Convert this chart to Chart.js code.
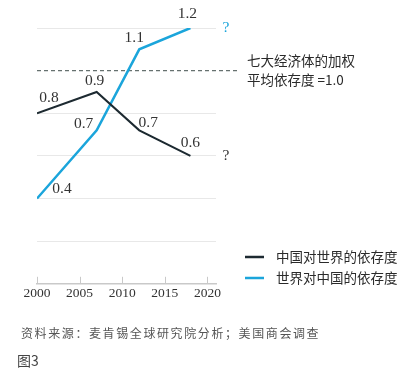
<!DOCTYPE html>
<html>
<head>
<meta charset="utf-8">
<script src="https://cdn.jsdelivr.net/npm/chart.js@4/dist/chart.umd.min.js"></script>
<style>
  html, body { margin: 0; padding: 0; background: #fff; }
  #wrap { position: relative; width: 411px; height: 371px; overflow: hidden; }
  #chart { position: absolute; left: 0; top: 0; }
  .note { position: absolute; font-family: "Noto Sans CJK SC", sans-serif; }
  #source { left: 21px; top: 324px; font-size: 12px; color: #555; letter-spacing: 1.6px; }
  #fig { left: 17px; top: 350px; font-size: 14px; color: #444; }
</style>
</head>
<body>
<div id="wrap">
  <canvas id="chart" width="411" height="371"></canvas>
  <div class="note" id="source">资料来源：麦肯锡全球研究院分析；美国商会调查</div>
  <div class="note" id="fig">图3</div>
</div>
<script>
const years = [2000, 2007, 2012, 2018];
const chinaOnWorld = [0.8, 0.9, 0.72, 0.6];
const worldOnChina = [0.4, 0.72, 1.1, 1.2];
const valueLabels = [['0.8', '0.9', '0.7', '0.6'], ['0.4', '0.7', '1.1', '1.2']];
const seriesNames = ['中国对世界的依存度', '世界对中国的依存度'];
const xTicks = [2000, 2005, 2010, 2015, 2020];
const yGrid = [0.2, 0.4, 0.6, 0.8, 1.0, 1.2];
const benchmark = 1.0;
const benchmarkText = ['七大经济体的加权', '平均依存度 =1.0'];

// label offsets from each point (px), per series
const labelShift = [
  [[12, -15], [-2, -11], [9, -7], [0, -13]],
  [[25, -10], [-13, -6], [-5, -11], [-3, -14]]
];

const numFont = '15.5px "Liberation Serif", "DejaVu Serif", serif';
const cjkFont = '13.5px "Noto Sans CJK SC", sans-serif';
const dark = '#1d2a31';
const blue = '#1ba5db';

const extras = {
  id: 'extras',
  beforeDatasetsDraw(chart) {
    const { ctx, chartArea, scales: { x, y } } = chart;
    // benchmark dashed line
    const by = y.getPixelForValue(benchmark);
    ctx.save();
    ctx.strokeStyle = '#66716f';
    ctx.lineWidth = 1.2;
    ctx.setLineDash([4, 3]);
    ctx.beginPath();
    ctx.moveTo(chartArea.left, by);
    ctx.lineTo(chartArea.right + 24, by);
    ctx.stroke();
    ctx.setLineDash([]);
    // upward tick marks on x axis
    ctx.strokeStyle = '#c9c9c9';
    ctx.lineWidth = 1;
    xTicks.forEach(v => {
      const px = Math.round(x.getPixelForValue(v)) + 0.5;
      ctx.beginPath();
      ctx.moveTo(px, chartArea.bottom);
      ctx.lineTo(px, chartArea.bottom - 7);
      ctx.stroke();
    });
    ctx.restore();
  },
  afterDatasetsDraw(chart) {
    const { ctx, chartArea, scales: { y } } = chart;
    ctx.save();
    ctx.textAlign = 'center';
    ctx.textBaseline = 'middle';
    ctx.font = numFont;
    ctx.fillStyle = '#333';
    chart.data.datasets.forEach((ds, di) => {
      const meta = chart.getDatasetMeta(di);
      meta.data.forEach((pt, i) => {
        const [dx, dy] = labelShift[di][i];
        ctx.fillText(valueLabels[di][i], pt.x + dx, pt.y + dy);
      });
      // question mark after the last point
      const last = meta.data[meta.data.length - 1];
      ctx.fillStyle = di === 0 ? '#333' : blue;
      ctx.fillText('?', chartArea.right + 10, last.y);
      ctx.fillStyle = '#333';
    });
    // benchmark note
    ctx.textAlign = 'left';
    ctx.font = cjkFont;
    ctx.fillStyle = '#2a2a2a';
    const by = y.getPixelForValue(benchmark);
    ctx.fillText(benchmarkText[0], chartArea.right + 31, by - 10);
    ctx.fillText(benchmarkText[1], chartArea.right + 31, by + 9);
    // legend
    chart.data.datasets.forEach((ds, di) => {
      const ly = 257 + di * 21;
      ctx.strokeStyle = ds.borderColor;
      ctx.lineWidth = 2.5;
      ctx.beginPath();
      ctx.moveTo(245, ly);
      ctx.lineTo(264, ly);
      ctx.stroke();
      ctx.fillStyle = '#2a2a2a';
      ctx.fillText(ds.label, 276, ly);
    });
    ctx.restore();
  }
};

new Chart(document.getElementById('chart'), {
  type: 'line',
  data: {
    datasets: [
      {
        label: seriesNames[0],
        data: years.map((yr, i) => ({ x: yr, y: chinaOnWorld[i] })),
        borderColor: dark,
        borderWidth: 2,
        pointRadius: 0,
        tension: 0
      },
      {
        label: seriesNames[1],
        data: years.map((yr, i) => ({ x: yr, y: worldOnChina[i] })),
        borderColor: blue,
        borderWidth: 2.5,
        pointRadius: 0,
        tension: 0
      }
    ]
  },
  options: {
    responsive: false,
    animation: false,
    layout: { padding: { left: 37, right: 195, top: 28, bottom: 67 } },
    plugins: { legend: { display: false }, tooltip: { enabled: false } },
    scales: {
      x: {
        type: 'linear',
        min: 2000,
        max: 2021,
        afterBuildTicks: s => { s.ticks = xTicks.map(v => ({ value: v })); },
        grid: { display: false, drawTicks: false },
        border: { display: true, color: '#c9c9c9', width: 1.5 },
        ticks: {
          color: '#333',
          font: { family: '"Liberation Serif", "DejaVu Serif", serif', size: 13.5 },
          padding: 2,
          maxRotation: 0,
          callback: v => String(v)
        }
      },
      y: {
        min: 0,
        max: 1.2,
        display: true,
        afterBuildTicks: s => { s.ticks = yGrid.map(v => ({ value: v })); },
        afterFit: s => { s.width = 0; },
        border: { display: false },
        ticks: { display: false },
        grid: {
          drawTicks: false,
          color: c => (c.tick && c.tick.value === benchmark) ? 'rgba(0,0,0,0)' : '#e8e8e8',
          lineWidth: 1
        }
      }
    }
  },
  plugins: [extras]
});
</script>
</body>
</html>
